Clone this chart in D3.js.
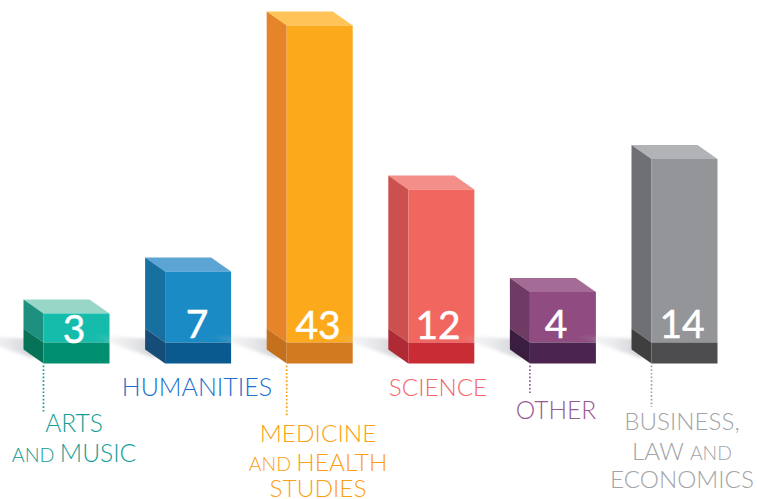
<!DOCTYPE html>
<html><head><meta charset="utf-8">
<style>html,body{margin:0;padding:0;background:#fff}svg{display:block}</style>
<script src="https://cdn.jsdelivr.net/npm/d3@7"></script></head>
<body><div id="c"></div>
<script>
const categories=["Arts and Music","Humanities","Medicine and Health Studies","Science","Other","Business, Law and Economics"];
const values=[3,7,43,12,4,14];
const labelLines=[[[["ARTS",1]],[["AND ",.8],["MUSIC",1]]],[[["HUMANITIES",1]]],[[["MEDICINE",1]],[["AND ",.8],["HEALTH",1]],[["STUDIES",1]]],[[["SCIENCE",1]]],[[["OTHER",1]]],[[["BUSINESS,",1]],[["LAW ",1],["AND",.8]],[["ECONOMICS",1]]]];

// layout and style
const W=757,H=499,base=363.5,bandH=21,dx=20,dy=14;
const front=["#16bcab","#1b8bc5","#fcaa1c","#f26660","#904b80","#939598"];
const top_=["#98d6c8","#5ba4d4","#ffc357","#f48e88","#a56b97","#b1b3b6"];
const side=["#1d9080","#17709f","#e58429","#cc5050","#6f3a63","#6f7073"];
const bandF=["#008f70","#0a5a90","#d17a20","#ca2c36","#4b244f","#4d4d4f"];
const bandS=["#067358","#164d78","#c4701c","#ae2a35","#3b1d40","#3f3f40"];
const textC=["#149d97","#1a70cc","#fd9f12","#f4656c","#9a5a93","#a2a4a7"];
const labelX=[74,197,318,438,556,682];
const labelY=[[432,462],[396],[442,471,497],[396],[419],[430,460,488]];
const labelSize=[24.6,25,24.4,24.2,24.6,24.2];
const numberY=[343,338,339,339,338,338];
const leaderEnd=[413,null,417,null,395,407];

const x=d3.scaleBand().domain(categories).range([43.5,717.5]).paddingInner(1-66/121.6);
// the original's bar heights are not proportional to the values
const y=d3.scaleLinear().domain([3,4,7,12,14,43]).range([313.5,292,271.5,189.5,159,25.5]);

const svg=d3.select("#c").append("svg").attr("width",W).attr("height",H);
const defs=svg.append("defs");
defs.append("filter").attr("id","blur").attr("x","-30%").attr("y","-60%").attr("width","160%").attr("height","220%")
  .append("feGaussianBlur").attr("stdDeviation","2.5 1.6");
const grad=defs.append("linearGradient").attr("id","fade");
grad.append("stop").attr("offset","0").attr("stop-color","#c2c4ca").attr("stop-opacity",0);
grad.append("stop").attr("offset","0.55").attr("stop-color","#c2c4ca").attr("stop-opacity",.32);
grad.append("stop").attr("offset","1").attr("stop-color","#b8bac0").attr("stop-opacity",.7);

const poly=(g,pts,fill)=>g.append("polygon").attr("points",pts.map(p=>p.join(",")).join(" ")).attr("fill",fill);

categories.forEach((c,i)=>{
  const g=svg.append("g");
  const l=x(c),r=l+x.bandwidth(),t=y(values[i]),m=base-bandH;
  // cast shadow falling to the left
  poly(g,[[l-12,339],[l-78,335],[l-8,359]],"url(#fade)").attr("filter","url(#blur)");
  poly(g,[[l,t],[l-dx,t-dy],[r-dx,t-dy],[r,t]],top_[i]);
  poly(g,[[l,t],[l-dx,t-dy],[l-dx,m-dy],[l,m]],side[i]);
  poly(g,[[l,m],[l-dx,m-dy],[l-dx,base-dy],[l,base]],bandS[i]);
  g.append("rect").attr("x",l).attr("y",t).attr("width",r-l).attr("height",m-t).attr("fill",front[i]);
  g.append("rect").attr("x",l).attr("y",m).attr("width",r-l).attr("height",bandH).attr("fill",bandF[i]);
  g.append("text").attr("x",labelX[i]).attr("y",numberY[i]).attr("text-anchor","middle")
    .attr("font-family","Lato").attr("font-weight",400).attr("font-size",39).attr("fill","#fff")
    .attr("stroke","#fff").attr("stroke-width",.5).text(values[i]);
  if(leaderEnd[i]!==null){
    g.append("line").attr("x1",l).attr("x2",l).attr("y1",base+2).attr("y2",leaderEnd[i])
      .attr("stroke",textC[i]).attr("stroke-width",1.7).attr("stroke-dasharray","1.7 2");
  }
});
categories.forEach((c,i)=>{
  const tg=svg.append("g").attr("font-family","Lato").attr("font-weight",300).attr("fill",textC[i]).attr("text-anchor","middle");
  labelLines[i].forEach((line,j)=>{
    const te=tg.append("text").attr("x",labelX[i]).attr("y",labelY[i][j]);
    line.forEach(([s,k])=>te.append("tspan").attr("font-size",labelSize[i]*k).text(s));
  });
});
</script></body></html>
